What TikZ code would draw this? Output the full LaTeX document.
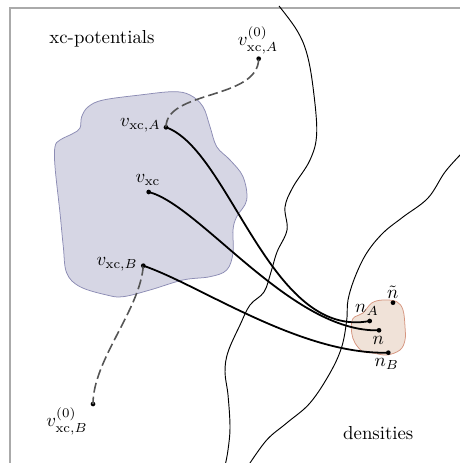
\documentclass[tikz,border=0pt]{standalone}
\usepackage{amsmath}
\definecolor{blobA}{RGB}{214,214,228}
\definecolor{blobAline}{RGB}{140,140,180}
\definecolor{blobB}{RGB}{240,226,216}
\definecolor{blobBline}{RGB}{214,150,128}
\definecolor{frameg}{RGB}{170,170,170}
\definecolor{dashg}{RGB}{85,85,85}
\begin{document}
\begin{tikzpicture}[x=0.532pt,y=-0.532pt,
  dot/.style={circle,fill=black,inner sep=0pt,minimum size=2.5pt},
  lbl/.style={inner sep=0pt},
  link/.style={line width=0.95pt,black},
  dlink/.style={line width=0.85pt,dashg,dash pattern=on 5.3pt off 2.2pt},
  wave/.style={line width=0.5pt,black},
  ]
\useasboundingbox (0,0) rectangle (460,463);
\clip (0,0) rectangle (460,463);
% frame
\draw[frameg,line width=0.55pt] (10,480) -- (10,8) -- (480,8);
% xc-potential blob
\draw[blobAline,fill=blobA,line width=0.4pt] plot[smooth cycle,tension=0.6] coordinates {
 (55,146.7) (60,140) (73.3,133.3) (80,128) (81.7,116.7) (88.3,106.7) (103.3,100)
 (140,95) (173,91.7) (190,95) (203,106.7) (210,126.7) (216.7,146.7) (230,160)
 (243,176.7) (246.7,200) (236.7,216.7) (233,230) (233,253) (226.7,270) (210,276.7)
 (183,280) (150,290) (123,296.7) (106.7,295) (80,286.7) (66.7,273) (63.3,246.7)
 (60,213) (55,166.7)};
% density blob
\draw[blobBline,fill=blobB,line width=0.4pt] plot[smooth cycle,tension=0.6] coordinates {
 (351.7,321.7) (355,316.7) (363,313) (371.7,303) (383,300) (396.7,301.7) (403,310)
 (405,326.7) (405,340) (400,350) (386.7,355) (373,353) (363,351.7) (355,343) (351.7,333)};
% wavy boundaries
\draw[wave] plot[smooth,tension=0.6] coordinates {
 (279,6) (296.7,30) (306.7,53) (313,87) (316.7,133) (310,160) (293,187) (285,207)
 (287,230) (277,252) (271,272) (264,292) (250,305) (240,325) (228,352)
 (225,372) (228,395) (230,427) (228,450) (225,466)};
\draw[wave] plot[smooth,tension=0.6] coordinates {
 (462,153) (445,172) (428,198) (403,217) (383,233) (366.7,253) (355,277) (348,300)
 (346.7,320) (341.7,347) (330,373) (310,403) (286.7,423) (266.7,440) (248,466)};
% points
\node[dot] (vA0) at (258.7,58.7) {};
\node[dot] (vA) at (166,127.3) {};
\node[dot] (v) at (148.7,192) {};
\node[dot] (vB) at (143.3,265.7) {};
\node[dot] (vB0) at (93,404) {};
\node[dot] (nA) at (369.7,321) {};
\node[dot] (n) at (379,330.3) {};
\node[dot] (nB) at (388.3,352.7) {};
\node[dot] (nt) at (393,302.7) {};
% connectors
\draw[dlink] (vA.center) .. controls (166,90) and (258,100) .. (vA0.center);
\draw[dlink] (vB.center) .. controls (140,310) and (93,360) .. (vB0.center);
\draw[link] (vA.center) .. controls (230,150) and (270,340) .. (nA.center);
\draw[link] (v.center) .. controls (200,205) and (292,333) .. (n.center);
\draw[link] (vB.center) .. controls (200,285) and (300,355) .. (nB.center);
% labels
\node[lbl] (tA0) at (258,40) {$v^{(0)}_{\mathrm{xc},A}$};
\node[lbl,anchor=east] (tA) at (161,125) {$v_{\mathrm{xc},A}$};
\node[lbl] (tv) at (148,180) {$v_{\mathrm{xc}}$};
\node[lbl,anchor=east] (tB) at (138,264) {$v_{\mathrm{xc},B}$};
\node[lbl] (tB0) at (67,421) {$v^{(0)}_{\mathrm{xc},B}$};
\node[lbl] (tnA) at (367,310) {$n_A$};
\node[lbl] (tn) at (378.3,340) {$n$};
\node[lbl] (tnB) at (386.7,364) {$n_B$};
\node[lbl] (tnt) at (392.7,292.7) {$\tilde{n}$};
\node[lbl] (pot) at (102,39) {xc-potentials};
\node[lbl] (den) at (378.3,433.3) {densities};
\end{tikzpicture}
\end{document}
